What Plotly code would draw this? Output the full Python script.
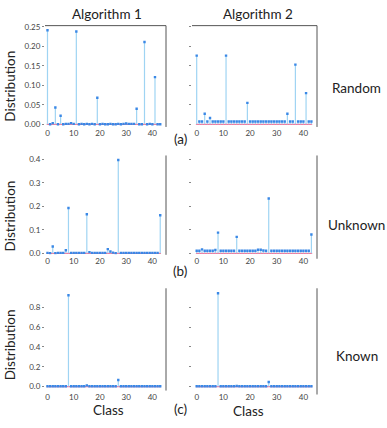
import plotly.graph_objects as go

W, H = 387, 428

classes = list(range(44))

# Random (a)
alg1_random = [0.241, 0.0, 0.003, 0.043, 0.0, 0.022, 0.0, 0.001, 0.001, 0.003,
               0.001, 0.238, 0.0, 0.001, 0.0, 0.001, 0.0, 0.001, 0.0, 0.068,
               0.0, 0.001, 0.0, 0.0, 0.001, 0.0, 0.0, 0.001, 0.0, 0.001,
               0.002, 0.001, 0.001, 0.001, 0.040, 0.0, 0.0, 0.211, 0.0, 0.001,
               0.0, 0.121, 0.0, 0.0]
alg2_random = [0.176, 0.007, 0.007, 0.027, 0.007, 0.016, 0.007, 0.007, 0.007, 0.007,
               0.007, 0.176, 0.007, 0.007, 0.007, 0.007, 0.007, 0.007, 0.007, 0.055,
               0.007, 0.007, 0.007, 0.007, 0.007, 0.007, 0.007, 0.007, 0.007, 0.007,
               0.007, 0.007, 0.007, 0.007, 0.027, 0.007, 0.007, 0.153, 0.007, 0.007,
               0.007, 0.080, 0.007, 0.007]

# Unknown (b)
alg1_unknown = [0.002, 0.001, 0.029, 0.001, 0.002, 0.002, 0.002, 0.013, 0.193, 0.002,
                0.002, 0.002, 0.002, 0.002, 0.002, 0.166, 0.005, 0.002, 0.002, 0.002,
                0.002, 0.002, 0.002, 0.018, 0.008, 0.003, 0.001, 0.397, 0.002, 0.002,
                0.002, 0.002, 0.002, 0.002, 0.002, 0.002, 0.002, 0.002, 0.002, 0.002,
                0.002, 0.002, 0.002, 0.162]
alg2_unknown = [0.011, 0.011, 0.017, 0.011, 0.011, 0.011, 0.011, 0.014, 0.088, 0.011,
                0.011, 0.011, 0.011, 0.011, 0.011, 0.070, 0.011, 0.011, 0.011, 0.011,
                0.011, 0.011, 0.011, 0.015, 0.015, 0.012, 0.011, 0.233, 0.011, 0.011,
                0.011, 0.011, 0.011, 0.011, 0.011, 0.011, 0.011, 0.011, 0.011, 0.011,
                0.011, 0.011, 0.011, 0.080]

# Known (c)
alg1_known = [0.003] * 8 + [0.92] + [0.003] * 6 + [0.012] + [0.003] * 11 + [0.066] + [0.003] * 16
alg2_known = [0.003] * 8 + [0.94] + [0.003] * 6 + [0.006] + [0.003] * 11 + [0.046] + [0.003] * 16

row_names = ["Random", "Unknown", "Known"]
panel_tags = ["(a)", "(b)", "(c)"]
col_titles = ["Algorithm 1", "Algorithm 2"]
y_ticks = [[0.0, 0.05, 0.10, 0.15, 0.20, 0.25],
           [0.0, 0.1, 0.2, 0.3, 0.4],
           [0.0, 0.2, 0.4, 0.6, 0.8]]
y_tick_text = [["0.00", "0.05", "0.10", "0.15", "0.20", "0.25"],
               ["0.0", "0.1", "0.2", "0.3", "0.4"],
               ["0.0", "0.2", "0.4", "0.6", "0.8"]]
x_ticks = [0, 10, 20, 30, 40]

data = [[alg1_random, alg2_random],
        [alg1_unknown, alg2_unknown],
        [alg1_known, alg2_known]]

STEM = "#9fd4f3"
MARK = "#3a88e6"
BASE = "#f27a9c"
FONT = "Lato"


def px_x(v):
    return v / W


def px_y(v):
    return 1 - v / H


col_dom = [(45, 166), (192, 317)]
row_dom = [(22, 125), (154, 255), (289, 393)]
x_ranges = [[-0.95, 45.2], [-1.76, 45.1]]
y_ranges = [[-0.0068, 0.253], [-0.0063, 0.416], [-0.04, 0.99]]

fig = go.Figure()
shapes = []
n = 0
for r in range(3):
    for c in range(2):
        n += 1
        xa = "x" if n == 1 else f"x{n}"
        ya = "y" if n == 1 else f"y{n}"
        vals = data[r][c]
        sx, sy = [], []
        for k, v in zip(classes, vals):
            sx += [k, k, None]
            sy += [0, v, None]
        fig.add_trace(go.Scatter(x=[classes[0] - 0.3, classes[-1] + 0.3], y=[0, 0],
                                 mode="lines", line=dict(color=BASE, width=1.2),
                                 xaxis=xa, yaxis=ya, showlegend=False))
        fig.add_trace(go.Scatter(x=sx, y=sy, mode="lines", line=dict(color=STEM, width=1.2),
                                 xaxis=xa, yaxis=ya, showlegend=False))
        fig.add_trace(go.Scatter(x=classes, y=vals, mode="markers",
                                 marker=dict(color=MARK, size=2.4, symbol="square"),
                                 xaxis=xa, yaxis=ya, showlegend=False))
        x0, x1 = col_dom[c]
        y0, y1 = row_dom[r]
        fig.layout[f"xaxis{n if n > 1 else ''}"] = dict(
            domain=[px_x(x0), px_x(x1)], range=x_ranges[c], anchor=ya,
            showgrid=False, zeroline=False, showline=False,
            tickvals=x_ticks, ticks="", tickfont=dict(size=8, color="#444", family=FONT))
        fig.layout[f"yaxis{n if n > 1 else ''}"] = dict(
            domain=[px_y(y1), px_y(y0)], range=y_ranges[r], anchor=xa,
            showgrid=False, zeroline=False, showline=False,
            tickvals=y_ticks[r], ticktext=y_tick_text[r], showticklabels=(c == 0),
            ticks="outside", ticklen=2, tickwidth=1, tickcolor="#888",
            tickfont=dict(size=8, color="#444", family=FONT))
        # frame lines
        shapes.append(dict(type="line", xref="paper", yref="paper",
                           x0=px_x(x1), x1=px_x(x1), y0=px_y(y0), y1=px_y(y1 + (4 if (r > 0 and c == 1) else 0)),
                           line=dict(color="#555", width=1)))
        if r == 0:
            shapes.append(dict(type="line", xref="paper", yref="paper",
                               x0=px_x(x0), x1=px_x(x1), y0=px_y(y0), y1=px_y(y0),
                               line=dict(color="#555", width=1)))

ann = []
txt = dict(family=FONT, size=13.5, color="#222")
ann.append(dict(x=px_x(107), y=px_y(10), text=col_titles[0]))
ann.append(dict(x=px_x(258), y=px_y(10), text=col_titles[1]))
for r, (yc, tag_y) in enumerate([(84, 137), (216, 271), (347, 412)]):
    ann.append(dict(x=px_x(10), y=px_y(yc), text="Distribution", textangle=-90))
    ann.append(dict(x=px_x(180), y=px_y(tag_y), text=panel_tags[r]))
ann.append(dict(x=px_x(356), y=px_y(85), text=row_names[0]))
ann.append(dict(x=px_x(356), y=px_y(225), text=row_names[1]))
ann.append(dict(x=px_x(357), y=px_y(358), text=row_names[2]))
ann.append(dict(x=px_x(108.5), y=px_y(413), text="Class"))
ann.append(dict(x=px_x(248.5), y=px_y(414), text="Class"))
for a in ann:
    a.update(xref="paper", yref="paper", showarrow=False, font=txt,
             xanchor="center", yanchor="middle")

fig.update_layout(width=W, height=H, margin=dict(l=0, r=0, t=0, b=0),
                  plot_bgcolor="white", paper_bgcolor="white",
                  annotations=ann, shapes=shapes, font=dict(family=FONT))
fig.write_html("out.html", config={"displayModeBar": False},
               post_script="document.body.style.margin='0';document.body.style.overflow='hidden';")
